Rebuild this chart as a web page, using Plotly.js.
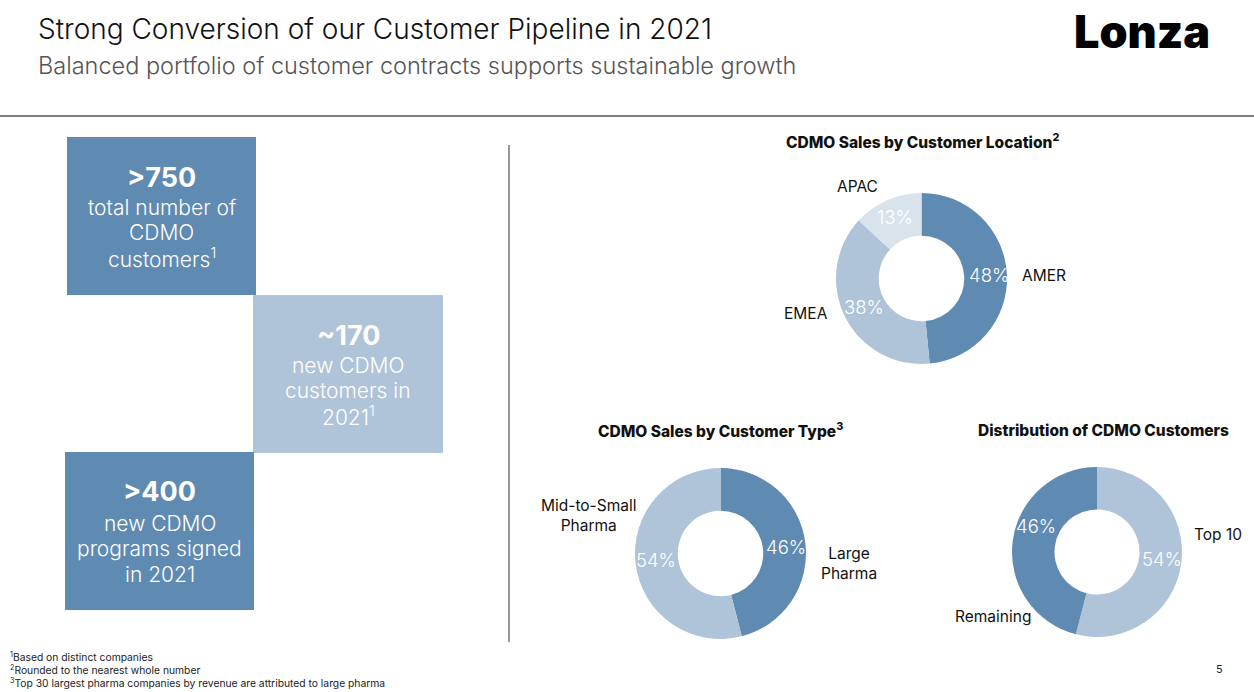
<!DOCTYPE html>
<html><head><meta charset="utf-8">
<script src="https://cdn.plot.ly/plotly-3.0.1.min.js"></script>
<style>html,body{margin:0;padding:0;background:#fff;}#chart{width:1254px;height:692px;}</style>
</head><body><div id="chart"></div>
<script>
// ---- data ----
const locLabels = ['AMER', 'EMEA', 'APAC'];
const locValues = [48, 38, 13];
const typeLabels = ['Large Pharma', 'Mid-to-Small Pharma'];
const typeValues = [46, 54];
const distLabels = ['Top 10', 'Remaining'];
const distValues = [54, 46];
const kpiValues = ['>750', '~170', '>400'];
const kpiTexts = ['total number of<br>CDMO<br>customers<sup>1</sup>', 'new CDMO<br>customers in<br>2021<sup>1</sup>', 'new CDMO<br>programs signed<br>in 2021'];
const chartTitles = ['CDMO Sales by Customer Location<sup>2</sup>', 'CDMO Sales by Customer Type<sup>3</sup>', 'Distribution of CDMO Customers'];
const footnotes = ['<sup>1</sup>Based on distinct companies', '<sup>2</sup>Rounded to the nearest whole number', '<sup>3</sup>Top 30 largest pharma companies by revenue are attributed to large pharma'];

// ---- helpers ----
const W = 1254, H = 692;
const X = p => p / W;
const Y = p => 1 - p / H;
const DARK = '#5F8AB1', LIGHT = '#AFC4D8', LIGHTEST = '#D9E3EC';
const FONT = 'Inter, "Noto Sans", sans-serif';

function pie(labels, values, colors, x0, x1, y0, y1) {
  return {
    type: 'pie', labels: labels, values: values, hole: 0.5, sort: false,
    direction: 'clockwise', rotation: 0,
    marker: {colors: colors, line: {width: 0}},
    textinfo: 'none', hoverinfo: 'label+value',
    domain: {x: [X(x0), X(x1)], y: [Y(y1), Y(y0)]},
    showlegend: false
  };
}

const data = [
  pie(locLabels, locValues, [DARK, LIGHT, LIGHTEST], 836, 1007, 193, 364),
  pie(typeLabels, typeValues, [DARK, LIGHT], 635, 806, 468, 639),
  pie(distLabels, distValues, [LIGHT, DARK], 1012, 1182, 467, 637)
];

const ann = [];
function txt(text, x, y, size, opts) {
  ann.push(Object.assign({
    text: text, x: X(x), y: Y(y), xref: 'paper', yref: 'paper',
    showarrow: false, xanchor: 'center', yanchor: 'middle',
    font: {family: FONT, size: size, color: '#111111'}
  }, opts || {}));
}
// headers
txt('Strong Conversion of our Customer Pipeline in 2021', 36, 29, 28, {xanchor: 'left', font: {family: FONT, size: 28, color: '#111111', weight: 300}});
txt('Balanced portfolio of customer contracts supports sustainable growth', 36, 66, 23.5, {xanchor: 'left', font: {family: FONT, size: 23.5, color: '#555555', weight: 300}});
txt('Lonza', 1142, 32, 45, {font: {family: FONT, size: 45, color: '#000000', weight: 900}});

// KPI boxes
const boxCenters = [[161.5, 177, 207], [348, 335, 365], [159.5, 491, 523]];
kpiValues.forEach((v, i) => {
  const c = boxCenters[i];
  txt('<b>' + v + '</b>', c[0], c[1], 27, {font: {family: FONT, size: 27, color: '#ffffff', weight: 700}});
  kpiTexts[i].split('<br>').forEach((line, j) => {
    txt(line, c[0], c[2] + j * 25.5, 21, {font: {family: FONT, size: 21, color: '#ffffff', weight: 300}});
  });
});

// chart titles
const tfont = {family: FONT, size: 15.5, color: '#111111', weight: 800};
txt(chartTitles[0], 922, 141, 15.5, {font: tfont});
txt(chartTitles[1], 720, 430, 15.5, {font: tfont});
txt(chartTitles[2], 1103, 430, 15.5, {font: tfont});

// percentage labels inside rings
const pfont = {family: FONT, size: 18.5, color: '#ffffff', weight: 300};
const pct = v => v + '%';
txt(pct(locValues[0]), 988.5, 274.5, 18.5, {font: pfont});
txt(pct(locValues[1]), 864, 307, 18.5, {font: pfont});
txt(pct(locValues[2]), 894.5, 216.5, 18.5, {font: pfont});
txt(pct(typeValues[0]), 786.5, 546.5, 18.5, {font: pfont});
txt(pct(typeValues[1]), 656, 560, 18.5, {font: pfont});
txt(pct(distValues[0]), 1161.5, 559, 18.5, {font: pfont});
txt(pct(distValues[1]), 1036, 526, 18.5, {font: pfont});

// slice labels
const two = s => s.replace(' Pharma', '<br>Pharma');
txt(locLabels[0], 1044, 275, 15.5);
txt(locLabels[1], 806, 313, 15.5);
txt(locLabels[2], 857, 186, 15.5);
txt(two(typeLabels[0]), 849, 563, 15.5);
txt(two(typeLabels[1]), 588, 515, 15.5);
txt(distLabels[0], 1218, 534, 15.5);
txt(distLabels[1], 993, 616, 15.5);

// footnotes
footnotes.forEach((f, i) => txt(f, 8, 656 + i * 13, 10.3, {xanchor: 'left', font: {family: FONT, size: 10.3, color: '#222222'}}));
txt('5', 1219, 669, 11, {font: {family: FONT, size: 11, color: '#222222'}});

const shapes = [
  {type: 'rect', xref: 'paper', yref: 'paper', x0: X(67), x1: X(256), y0: Y(295), y1: Y(137), fillcolor: DARK, line: {width: 0}, layer: 'below'},
  {type: 'rect', xref: 'paper', yref: 'paper', x0: X(253), x1: X(443), y0: Y(453), y1: Y(295), fillcolor: LIGHT, line: {width: 0}, layer: 'below'},
  {type: 'rect', xref: 'paper', yref: 'paper', x0: X(65), x1: X(254), y0: Y(610), y1: Y(452), fillcolor: DARK, line: {width: 0}, layer: 'below'},
  {type: 'line', xref: 'paper', yref: 'paper', x0: 0, x1: 1, y0: Y(116), y1: Y(116), line: {color: '#555555', width: 1.5}},
  {type: 'line', xref: 'paper', yref: 'paper', x0: X(509), x1: X(509), y0: Y(145), y1: Y(642), line: {color: '#333333', width: 1}}
];

const layout = {
  width: W, height: H, margin: {l: 0, r: 0, t: 0, b: 0},
  paper_bgcolor: '#ffffff', plot_bgcolor: '#ffffff',
  font: {family: FONT},
  annotations: ann, shapes: shapes, showlegend: false
};
Plotly.newPlot('chart', data, layout, {displayModeBar: false, staticPlot: true});
</script></body></html>
